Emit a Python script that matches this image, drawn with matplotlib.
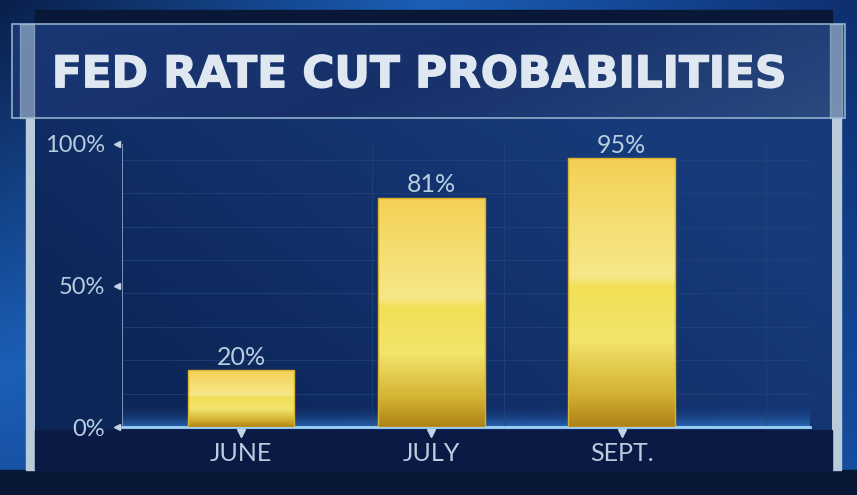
import numpy as np
import matplotlib
matplotlib.use("Agg")
import matplotlib.pyplot as plt
from matplotlib.colors import LinearSegmentedColormap
from matplotlib.patches import Rectangle
from matplotlib.ticker import MultipleLocator
import matplotlib.transforms as mtransforms
import matplotlib.patheffects as pe

plt.rcParams['font.family'] = ['Lato', 'DejaVu Sans']

# data
months = ["JUNE", "JULY", "SEPT."]
probs = [20, 81, 95]
y_ticks = [0, 50, 100]
y_tick_labels = ["0%", "50%", "100%"]
title = "FED RATE CUT PROBABILITIES"

W, H = 857, 495
fig = plt.figure(figsize=(W / 100, H / 100), dpi=100)

# ---- studio style backdrop (pixel coords, y down) ----
bg = fig.add_axes([0, 0, 1, 1], zorder=-10)
bg.set_xlim(0, W)
bg.set_ylim(H, 0)
bg.axis("off")

backdrop = LinearSegmentedColormap.from_list("bd", ["#0a1f4a", "#1b5fb8", "#0e2f70"])
gx = np.linspace(0, 1, 200)
gy = np.linspace(0, 1, 120)[:, None]
bg.imshow(0.6 * gx[None, :] * (1 - gy) + 0.4 * gy, cmap=backdrop, extent=(0, W, H, 0),
          aspect="auto", zorder=0)
bg.add_patch(Rectangle((0, 470), W, 25, color="#081736", zorder=1))

# side pillars
bg.add_patch(Rectangle((26, 118), 9, 352, color="#b9cadb", zorder=2))
bg.add_patch(Rectangle((832, 118), 9, 352, color="#b9cadb", zorder=2))

# main panel with a soft diagonal shade
panel = LinearSegmentedColormap.from_list("pn", ["#0d2658", "#12306a", "#163a7a"])
px = np.linspace(0, 1, 200)[None, :]
py = np.linspace(0, 1, 100)[:, None]
bg.imshow(np.clip(px - 0.6 * py + 0.3, 0, 1), cmap=panel, extent=(35, 832, 470, 118),
          aspect="auto", zorder=3)
bg.add_patch(Rectangle((35, 430), 797, 40, color="#0b1a44", zorder=4))

# title banner
bg.add_patch(Rectangle((35, 10), 797, 14, color="#0a1838", zorder=5))
banner = LinearSegmentedColormap.from_list("bn", ["#1a3774", "#17306a", "#2a4a80"])
bg.imshow(np.clip(px * 0.8 + 0.2 * py, 0, 1), cmap=banner, extent=(12, 845, 118, 24),
          aspect="auto", zorder=5)
bg.add_patch(Rectangle((12, 24), 833, 94, fill=False, ec="#8fb0cc", lw=1.2, zorder=6))
bg.add_patch(Rectangle((20, 24), 14, 94, color="#a9bfd4", alpha=0.6, zorder=6))
bg.add_patch(Rectangle((830, 24), 12, 94, color="#a9bfd4", alpha=0.6, zorder=6))

fig.text(0.489, 0.849, title, ha="center", va="center", fontsize=31.5, fontweight="bold",
         family="DejaVu Sans", color="#dfe8f0", zorder=10,
         path_effects=[pe.withStroke(linewidth=1, foreground="#dfe8f0")])

# ---- chart ----
ax = fig.add_axes([122 / W, (H - 427) / H, 688 / W, 283 / H])
ax.set_facecolor("none")
ax.set_xlim(-0.625, 2.99)
ax.set_ylim(0, 100)

for s in ["top", "right", "left"]:
    ax.spines[s].set_visible(False)
ax.spines["bottom"].set_color("#9fd2f5")
ax.spines["bottom"].set_linewidth(2)
ax.axvline(-0.625, color="#8ea5c4", lw=1.2, zorder=3)

ax.yaxis.set_minor_locator(MultipleLocator(11.8))
ax.xaxis.set_minor_locator(MultipleLocator(0.69))
ax.grid(which="minor", color="#23457b", lw=0.7, alpha=0.7)
ax.tick_params(which="minor", length=0)

# blue glow above the baseline
glow = np.linspace(1, 0, 60)[:, None] ** 2 * np.ones((1, 10))
glow_cmap = LinearSegmentedColormap.from_list("gl", [(0.2, 0.5, 0.9, 0), (0.25, 0.6, 0.95, 0.55)])
ax.imshow(glow[::-1], cmap=glow_cmap, extent=(-0.625, 2.99, 0, 9), aspect="auto", zorder=1)

gold = LinearSegmentedColormap.from_list(
    "gold", [(0.0, "#ae8418"), (0.12, "#d3b232"), (0.32, "#f3e46c"), (0.52, "#f2df55"),
             (0.56, "#f6e788"), (0.8, "#f5dc6e"), (1.0, "#f3d055")])
x = np.arange(len(months))
bars = ax.bar(x, probs, width=0.56, color="none", edgecolor="#d9b22e", lw=1, zorder=4)
for b in bars:
    grad = np.linspace(1, 0, 100)[:, None]
    im = ax.imshow(grad, cmap=gold, extent=(b.get_x(), b.get_x() + b.get_width(), 0, b.get_height()),
                   aspect="auto", zorder=3)
    im.set_clip_path(b)
    ax.annotate(f"{int(b.get_height())}%", (b.get_x() + b.get_width() / 2, b.get_height()),
                xytext=(0, 1), textcoords="offset points", ha="center", va="bottom",
                fontsize=18, color="#b9cde0")

ax.set_xticks(x)
ax.set_xticklabels(months, fontsize=18, color="#b9cde0")
ax.set_yticks(y_ticks)
ax.set_yticklabels(y_tick_labels, fontsize=17, color="#b9cde0")
ax.tick_params(axis="x", length=0, pad=11)
ax.tick_params(axis="y", length=0, pad=12)

# small triangle markers at the ticks
down = mtransforms.offset_copy(ax.transData, fig=fig, x=0, y=-6, units="dots")
ax.plot(x, [0] * len(x), "v", ms=6, color="#c2d4e6", transform=down, clip_on=False, zorder=5)
left = mtransforms.offset_copy(ax.transData, fig=fig, x=-5, y=0, units="dots")
ax.plot([-0.625] * len(y_ticks), y_ticks, "<", ms=5, color="#c2d4e6", transform=left,
        clip_on=False, zorder=5)

fig.savefig("out.png", dpi=100)
